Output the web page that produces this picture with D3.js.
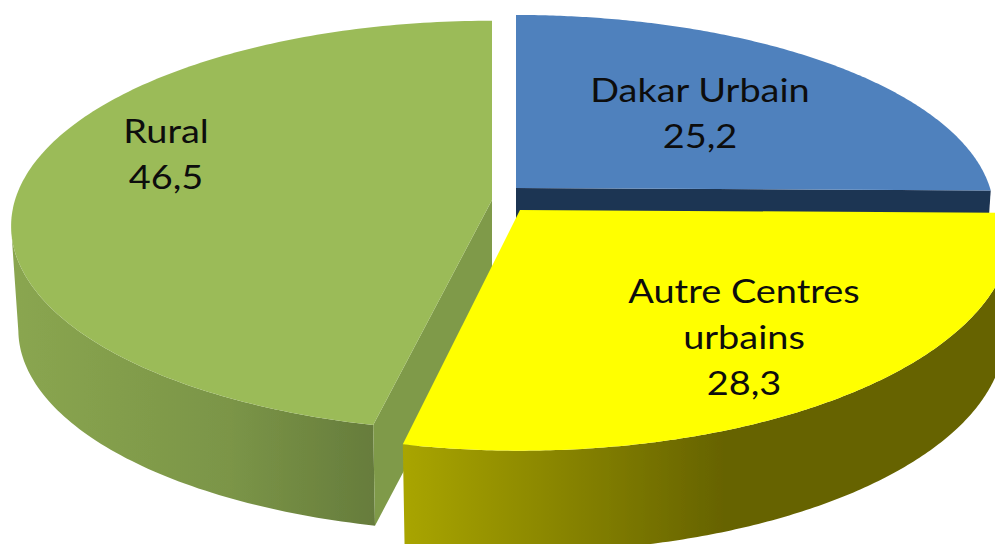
<!DOCTYPE html>
<html><head><meta charset="utf-8">
<style>html,body{margin:0;padding:0;background:#fff;overflow:hidden}svg{display:block}
text{font-family:Lato,"Open Sans",sans-serif;font-size:32px;fill:#0d0d0d;text-anchor:middle}</style>
<script src="https://cdn.jsdelivr.net/npm/d3@7/dist/d3.min.js"></script>
</head><body><svg id="c" width="995" height="544"></svg>
<script>
const categories = ["Dakar Urbain", "Autre Centres urbains", "Rural"];
const values = [25.2, 28.3, 46.5];
const valueLabels = ["25,2", "28,3", "46,5"];
const topColors = ["#4f81bd", "#ffff00", "#9bbb59"];
const cutColors = ["#1f3552", "#808000", "#7f9a48"];
const labelLines = [["Dakar Urbain"], ["Autre Centres", "urbains"], ["Rural"]];

// Layout of each exploded slice (apex on screen, radius, flattened radius, perspective)
const layout = [
  {cx:516, cy:188, R:474, Rk:195, wall:103, p:0.127},
  {cx:520, cy:210, R:490, Rk:219, wall:105, p:0.09},
  {cx:492, cy:200, R:477, Rk:202, wall:104, p:0.127}
];
const labelPos = [[700,102],[744,303],[166,143]];
const lineGap = 46, textStretch = 1.185, rimScale = 0.985;

const svg = d3.select("#c");
const defs = svg.append("defs");
defs.append("filter").attr("id","soft").attr("x","-5%").attr("y","-5%").attr("width","110%").attr("height","110%")
  .append("feGaussianBlur").attr("stdDeviation",0.6);
function grad(id,x1,x2,stops){
  const g=defs.append("linearGradient").attr("id",id).attr("gradientUnits","userSpaceOnUse")
    .attr("x1",x1).attr("x2",x2).attr("y1",0).attr("y2",0);
  stops.forEach(s=>g.append("stop").attr("offset",s[0]).attr("stop-color",s[1]));
}
grad("gGreen",11,375,[[0,"#8aa650"],[0.6,"#7b9547"],[1,"#667c3c"]]);
grad("gYellow",403,724,[[0,"#a9a500"],[1,"#666300"]]);
const wallFills = [null,"url(#gYellow)","url(#gGreen)"];
// which cut face of each slice faces the viewer
const visibleCut = [1,null,0];

const arcs = d3.pie().sort(null).value(d=>d)(values);

function project(l,a,low){
  const w = 1/(1+l.p*Math.cos(a));
  const s = low?rimScale:1;
  return [l.cx + l.R*Math.sin(a)*w*s, l.cy - l.Rk*Math.cos(a)*w*s + (low?l.wall:0)];
}
const samples=(a0,a1)=>d3.range(0,181).map(i=>d3.interpolateNumber(a0,a1)(i/180));
const line=d3.line();
const toLeftmost=pts=>pts.slice(0,d3.scan(pts,(p,q)=>p[0]-q[0])+1);

const plot = svg.append("g").attr("filter","url(#soft)");
// painter's order: back slices first
[0,2,1].forEach(i=>{
  const l=layout[i], d=arcs[i], g=plot.append("g");
  const a0=d.startAngle, a1=d.endAngle;
  const top=samples(a0,a1).map(a=>project(l,a,false));
  const low=samples(a0,a1).map(a=>project(l,a,true));
  if(wallFills[i]){
    const t=toLeftmost(top), b=toLeftmost(low).reverse();
    g.append("path").attr("d",line(t.concat(b))+"Z").attr("fill",wallFills[i]);
  }
  const apexT=[l.cx,l.cy], apexB=[l.cx,l.cy+l.wall];
  if(visibleCut[i]!==null){
    const a=visibleCut[i]?a1:a0;
    g.append("path").attr("d",line([apexT,project(l,a,false),project(l,a,true),apexB])+"Z").attr("fill",cutColors[i]);
  }
  g.append("path").attr("d",line([apexT].concat(top))+"Z").attr("fill",topColors[i]);
});

labelLines.forEach((ls,i)=>{
  const t=svg.append("g");
  ls.concat([valueLabels[i]]).forEach((s,j)=>{
    t.append("text")
      .attr("transform",`translate(${labelPos[i][0]},${labelPos[i][1]+j*lineGap}) scale(${textStretch},1)`)
      .text(s);
  });
});
</script></body></html>
